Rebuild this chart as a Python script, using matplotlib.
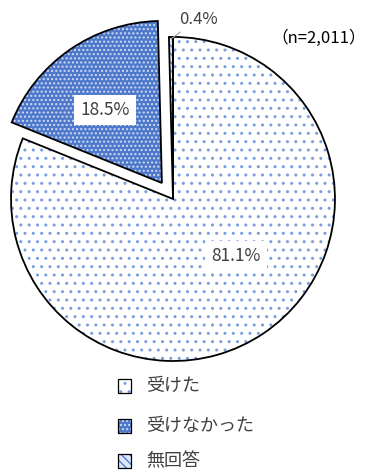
import matplotlib.pyplot as plt
from matplotlib.patches import Rectangle

plt.rcParams['font.family'] = ['Noto Sans CJK JP', 'DejaVu Sans']
plt.rcParams['hatch.linewidth'] = 1.0

labels = ["受けた", "受けなかった", "無回答"]
values = [81.1, 18.5, 0.4]
value_text = ["81.1%", "18.5%", "0.4%"]
explode = [0, 0.12, 0]
face_colors = ["white", "#4e78ca", "#dfe7f7"]
hatch_colors = ["#7b9ee0", "#cfdcf4", "#4f7fd6"]
hatches = ["..", "....", "\\\\\\\\"]

W, H = 368, 472
fig = plt.figure(figsize=(W / 100, H / 100), dpi=100)
ax = fig.add_axes([0, 0, 1, 1])

# hatched fills (hatch colour follows edgecolor, so no visible edge here)
wedges, _ = ax.pie(values, startangle=90, counterclock=False, explode=explode,
                   radius=1.0, center=(0, 0))
for w, fc, hc, h in zip(wedges, face_colors, hatch_colors, hatches):
    w.set_facecolor(fc)
    w.set_edgecolor(hc)
    w.set_hatch(h)
    w.set_linewidth(0)

# black outlines on top
ax.pie(values, startangle=90, counterclock=False, explode=explode,
       radius=1.0, center=(0, 0),
       wedgeprops=dict(fill=False, edgecolor="black", linewidth=1.3))

ax.set_xlim(-1.068, 1.204)
ax.set_ylim(-1.685, 1.228)
ax.set_aspect("auto")
ax.axis("off")

box = dict(boxstyle="square,pad=0.35", facecolor="white", edgecolor="none")
ax.text(0.39, -0.35, value_text[0], fontsize=12.5, color="#404040",
        ha="center", va="center", bbox=box)
ax.text(-0.42, 0.55, value_text[1], fontsize=12.5, color="#404040",
        ha="center", va="center", bbox=box)
ax.annotate(value_text[2], xy=(-0.012, 0.988), xytext=(0.16, 1.105),
            fontsize=12, color="#404040", ha="center", va="center",
            arrowprops=dict(arrowstyle="-", color="#a0a0a0", lw=0.8,
                            relpos=(0.15, 0.0), shrinkA=1, shrinkB=0))

fig.text(319 / W, 1 - 38 / H, "（n=2,011）", fontsize=12, color="black",
         ha="center", va="center")

# legend drawn by hand: hatched square + black outline + label
row_y = [386, 426, 461]
for lab, fc, hc, h, y in zip(labels, face_colors, hatch_colors, hatches, row_y):
    x0, y0 = 118 / W, 1 - (y + 7) / H
    fig.add_artist(Rectangle((x0, y0), 13 / W, 14 / H, transform=fig.transFigure,
                             facecolor=fc, edgecolor=hc, hatch=h, linewidth=0))
    fig.add_artist(Rectangle((x0, y0), 13 / W, 14 / H, transform=fig.transFigure,
                             fill=False, edgecolor="black", linewidth=0.9))
    fig.text(146 / W, 1 - y / H, lab, fontsize=13, color="#404040",
             ha="left", va="center")

fig.savefig("out.png", dpi=100)
